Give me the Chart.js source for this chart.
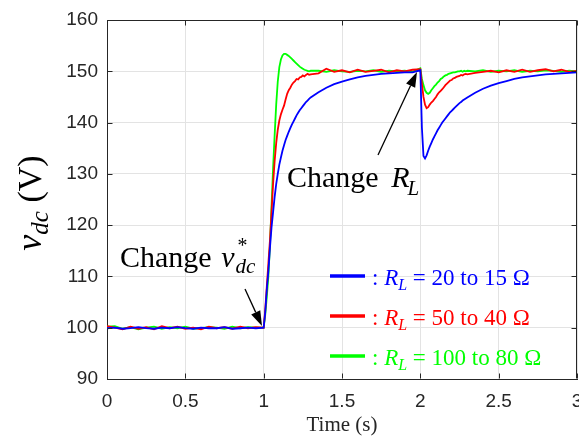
<!DOCTYPE html>
<html>
<head>
<meta charset="utf-8">
<script src="https://cdn.jsdelivr.net/npm/chart.js@4.4.0/dist/chart.umd.min.js"></script>
<style>
  html, body { margin: 0; padding: 0; background: #fff; }
  #wrap { width: 579px; height: 437px; }
</style>
</head>
<body>
<div id="wrap"><canvas id="chart" width="579" height="437"></canvas></div>
<script>
// sample times (s): coarse on the flat parts, 10 ms around the two steps
const time = [
  0, 0.05, 0.1, 0.15, 0.2, 0.25, 0.3, 0.35, 0.4, 0.45, 0.5, 0.55, 0.6, 0.65, 0.7, 0.75, 0.8, 0.85, 0.9, 0.95, 1.0,
  1.01, 1.02, 1.03, 1.04, 1.05, 1.06, 1.07, 1.08, 1.09, 1.1, 1.11, 1.12, 1.13, 1.14, 1.15, 1.16, 1.17, 1.18, 1.19, 1.2,
  1.21, 1.22, 1.23, 1.24, 1.25, 1.26, 1.27, 1.28, 1.29, 1.3,
  1.35, 1.4, 1.45, 1.5, 1.55, 1.6, 1.65, 1.7, 1.75, 1.8, 1.85, 1.9, 1.95, 2.0,
  2.01, 2.02, 2.03, 2.04, 2.05, 2.06, 2.07, 2.08, 2.09, 2.1, 2.11, 2.12, 2.13, 2.14, 2.15, 2.16, 2.17, 2.18, 2.19, 2.2,
  2.21, 2.22, 2.23, 2.24, 2.25, 2.26, 2.27, 2.28, 2.29, 2.3,
  2.35, 2.4, 2.45, 2.5, 2.55, 2.6, 2.65, 2.7, 2.75, 2.8, 2.85, 2.9, 2.95, 3.0
];

// vdc for R_L = 20 -> 15 ohm
const vdc20to15 = [
  99.9, 100.0, 99.8, 99.9, 100.1, 99.9, 99.8, 100.0, 99.9, 100.1, 99.9, 99.8, 100.0, 99.9, 99.9, 100.1, 99.8, 99.9, 100.0, 99.9, 100.0,
  103, 107.5, 111, 115.5, 119.5, 122.5, 125.5, 128, 130, 131.8,
  133.2, 134.5, 135.6, 136.6, 137.4, 138.2, 138.9, 139.6, 140.2, 140.8,
  141.4, 141.9, 142.4, 142.8, 143.2, 143.6, 144.0, 144.3, 144.6, 144.9,
  145.9, 146.8, 147.5, 148.0, 148.4, 148.8, 149.1, 149.3, 149.5, 149.6, 149.7, 149.8, 149.8, 150.2,
  139, 133.5, 133.0, 133.6, 134.5, 135.3, 136.0, 136.7, 137.3, 137.9,
  138.5, 139.0, 139.5, 140.0, 140.4, 140.8, 141.2, 141.6, 142.0, 142.3,
  142.6, 142.9, 143.2, 143.5, 143.8, 144.0, 144.3, 144.5, 144.7, 144.9,
  145.8, 146.6, 147.2, 147.7, 148.1, 148.5, 148.8, 149.0, 149.2, 149.4, 149.5, 149.6, 149.7, 149.8
];

// vdc for R_L = 50 -> 40 ohm
const vdc50to40 = [
  100.3, 100.0, 99.7, 100.2, 99.8, 100.1, 99.7, 100.3, 99.9, 100.2, 99.8, 100.0, 99.7, 100.2, 99.9, 100.1, 99.8, 100.2, 99.9, 100.1, 100.0,
  103.5, 108, 112.5, 117, 122.5, 128, 132.5, 136, 138.6, 140.4,
  141.6, 142.5, 143.3, 144.5, 145.6, 146.3, 146.8, 147.4, 147.8, 148.1,
  148.5, 148.4, 148.8, 148.9, 149.2, 149.0, 149.3, 149.5, 149.3, 149.4,
  149.6, 150.5, 149.9, 150.2, 149.8, 150.3, 149.9, 150.1, 150.3, 149.8, 150.2, 150.0, 150.3, 150.4,
  147.5, 145.0, 143.5, 142.8, 143.0, 143.5, 143.9, 144.2, 144.6, 145.0,
  145.5, 145.9, 146.2, 146.5, 146.9, 147.3, 147.6, 147.9, 148.2, 148.3,
  148.6, 148.7, 148.9, 149.0, 149.1, 149.3, 149.2, 149.4, 149.5, 149.4,
  149.7, 149.9, 150.1, 149.8, 150.2, 149.9, 150.3, 149.9, 150.2, 150.4, 150.0, 150.3, 149.9, 150.1
];

// vdc for R_L = 100 -> 80 ohm
const vdc100to80 = [
  100.2, 100.3, 99.8, 100.1, 99.7, 100.0, 100.2, 99.8, 100.1, 99.9, 100.2, 99.8, 99.9, 100.1, 100.0, 99.8, 100.2, 99.9, 100.1, 100.0, 100.0,
  102.5, 106, 110, 116, 123.5, 131, 137.5, 143.5, 148, 150.8,
  152.3, 153.1, 153.4, 153.4, 153.2, 153.0, 152.7, 152.4, 152.1, 151.8,
  151.5, 151.2, 150.9, 150.7, 150.5, 150.3, 150.2, 150.1, 150.0, 150.1,
  150.1, 149.9, 150.2, 150.0, 149.9, 150.1, 150.0, 150.2, 149.9, 150.1, 150.0, 150.1, 149.9, 150.6,
  148.5, 147.3, 146.3, 145.8, 145.6, 145.8, 146.3, 146.7, 147.1, 147.4,
  147.8, 148.1, 148.5, 148.7, 149.0, 149.2, 149.3, 149.5, 149.6, 149.7,
  149.8, 149.8, 149.9, 150.0, 150.0, 150.1, 149.9, 150.1, 150.0, 150.1,
  150.0, 150.2, 149.9, 150.1, 150.0, 150.2, 149.9, 150.1, 150.0, 150.2, 150.1, 149.9, 150.1, 150.0
];

const loadSteps = ['20 to 15 \u03A9', '50 to 40 \u03A9', '100 to 80 \u03A9'];
const lineColors = ['#0000ff', '#ff0000', '#00ff00'];
const xTickValues = [0, 0.5, 1, 1.5, 2, 2.5, 3];
const yTickValues = [90, 100, 110, 120, 130, 140, 150, 160];

const SERIF = '"Liberation Serif", "Times New Roman", serif';
const SANS = '"Liberation Sans", Arial, sans-serif';
const AXIS = '#262626';

function points(values) {
  return time.map((t, i) => ({ x: t, y: values[i] }));
}

// draws a run of text pieces; a piece with keep:true does not move the pen
function drawRich(ctx, x, y, parts, align) {
  let total = 0;
  parts.forEach(p => {
    if (p.keep) return;
    ctx.font = p.f;
    total += ctx.measureText(p.t).width + (p.dx || 0);
  });
  let cx = align === 'center' ? x - total / 2 : x;
  parts.forEach(p => {
    ctx.font = p.f;
    ctx.fillText(p.t, cx + (p.dx || 0), y + (p.dy || 0));
    if (!p.keep) cx += ctx.measureText(p.t).width + (p.dx || 0);
  });
}

function arrow(ctx, x0, y0, x1, y1) {
  const ang = Math.atan2(y1 - y0, x1 - x0);
  const hl = 15, hw = 5;
  const bx = x1 - hl * Math.cos(ang), by = y1 - hl * Math.sin(ang);
  ctx.strokeStyle = '#000';
  ctx.lineWidth = 1.3;
  ctx.beginPath();
  ctx.moveTo(x0, y0);
  ctx.lineTo(bx, by);
  ctx.stroke();
  ctx.fillStyle = '#000';
  ctx.beginPath();
  ctx.moveTo(x1, y1);
  ctx.lineTo(bx + hw * Math.sin(ang), by - hw * Math.cos(ang));
  ctx.lineTo(bx - hw * Math.sin(ang), by + hw * Math.cos(ang));
  ctx.closePath();
  ctx.fill();
}

const decorations = {
  id: 'decorations',
  afterDraw(chart) {
    const ctx = chart.ctx;
    const a = chart.chartArea;
    const xs = chart.scales.x, ys = chart.scales.y;
    ctx.save();

    // box and inward ticks
    ctx.strokeStyle = AXIS;
    ctx.lineWidth = 1;
    const L = Math.round(a.left) + 0.5, R = Math.round(a.right) - 0.5;
    const T = Math.round(a.top) + 0.5, B = Math.round(a.bottom) - 0.5;
    ctx.beginPath();
    ctx.moveTo(L, T); ctx.lineTo(R, T); ctx.lineTo(R, B);
    xTickValues.forEach(v => {
      const px = Math.round(xs.getPixelForValue(v)) + 0.5;
      ctx.moveTo(px, B); ctx.lineTo(px, B - 5);
      ctx.moveTo(px, T); ctx.lineTo(px, T + 5);
    });
    yTickValues.forEach(v => {
      const py = Math.round(ys.getPixelForValue(v)) + 0.5;
      ctx.moveTo(L, py); ctx.lineTo(L + 5, py);
      ctx.moveTo(R, py); ctx.lineTo(R - 5, py);
    });
    ctx.stroke();

    ctx.textBaseline = 'alphabetic';
    ctx.textAlign = 'left';

    // axis titles
    ctx.fillStyle = '#000';
    ctx.save();
    ctx.translate(41, 203);
    ctx.rotate(-Math.PI / 2);
    drawRich(ctx, 0, 0, [
      { t: 'v', f: 'italic 36px ' + SERIF },
      { t: 'dc', f: 'italic 25px ' + SERIF, dy: 7 },
      { t: ' (V)', f: '34px ' + SERIF }
    ], 'center');
    ctx.restore();

    ctx.fillStyle = '#262626';
    drawRich(ctx, (a.left + a.right) / 2, 431, [{ t: 'Time (s)', f: '21px ' + SERIF }], 'center');

    // annotations
    ctx.fillStyle = '#000';
    drawRich(ctx, 120, 267, [
      { t: 'Change ', f: '30px ' + SERIF },
      { t: 'v', f: 'italic 30px ' + SERIF, dx: 2 },
      { t: '*', f: 'italic 20px ' + SERIF, dy: -15, dx: 2, keep: true },
      { t: 'dc', f: 'italic 21px ' + SERIF, dy: 6, dx: 1 }
    ]);
    arrow(ctx, 245, 289, 262, 326);

    drawRich(ctx, 287, 187, [
      { t: 'Change ', f: '30px ' + SERIF },
      { t: 'R', f: 'italic 30px ' + SERIF, dx: 5 },
      { t: 'L', f: 'italic 21px ' + SERIF, dy: 8, dx: -2 }
    ]);
    arrow(ctx, 378, 155, 417, 72);

    // legend
    loadSteps.forEach((label, i) => {
      const y = 276 + i * 40;
      ctx.strokeStyle = lineColors[i];
      ctx.lineWidth = 3.5;
      ctx.beginPath();
      ctx.moveTo(330, y); ctx.lineTo(365, y);
      ctx.stroke();
      ctx.fillStyle = lineColors[i];
      drawRich(ctx, 372, y + 9, [
        { t: ': ', f: '23px ' + SERIF },
        { t: 'R', f: 'italic 23px ' + SERIF },
        { t: 'L', f: 'italic 16px ' + SERIF, dy: 5 },
        { t: ' = ', f: '23px ' + SERIF },
        { t: label, f: '23px ' + SERIF }
      ]);
    });

    ctx.restore();
  }
};

const series = [vdc20to15, vdc50to40, vdc100to80];

new Chart(document.getElementById('chart'), {
  type: 'line',
  data: {
    datasets: series.map((vals, i) => ({
      label: loadSteps[i],
      data: points(vals),
      borderColor: lineColors[i],
      borderWidth: 1.8,
      pointRadius: 0,
      tension: 0,
      fill: false
    }))
  },
  options: {
    responsive: false,
    animation: false,
    devicePixelRatio: 1,
    layout: { padding: { top: 20, right: 2, left: 0, bottom: 0 } },
    plugins: { legend: { display: false }, tooltip: { enabled: false } },
    scales: {
      x: {
        type: 'linear',
        min: 0,
        max: 3,
        ticks: {
          stepSize: 0.5,
          padding: 11,
          color: AXIS,
          font: { family: SANS, size: 19 },
          maxRotation: 0,
          autoSkip: false,
          callback: v => String(v)
        },
        grid: { color: '#e3e3e3', drawTicks: false },
        border: { color: AXIS, width: 1 },
        afterFit: s => { s.height = 58; s.paddingLeft = 0; s.paddingRight = 0; }
      },
      y: {
        min: 90,
        max: 160,
        ticks: {
          stepSize: 10,
          padding: 9,
          color: AXIS,
          font: { family: SANS, size: 19 }
        },
        grid: { color: '#e3e3e3', drawTicks: false },
        border: { color: AXIS, width: 1 },
        afterFit: s => { s.width = 107; s.paddingTop = 0; s.paddingBottom = 0; }
      }
    }
  },
  plugins: [decorations]
});
</script>
</body>
</html>
